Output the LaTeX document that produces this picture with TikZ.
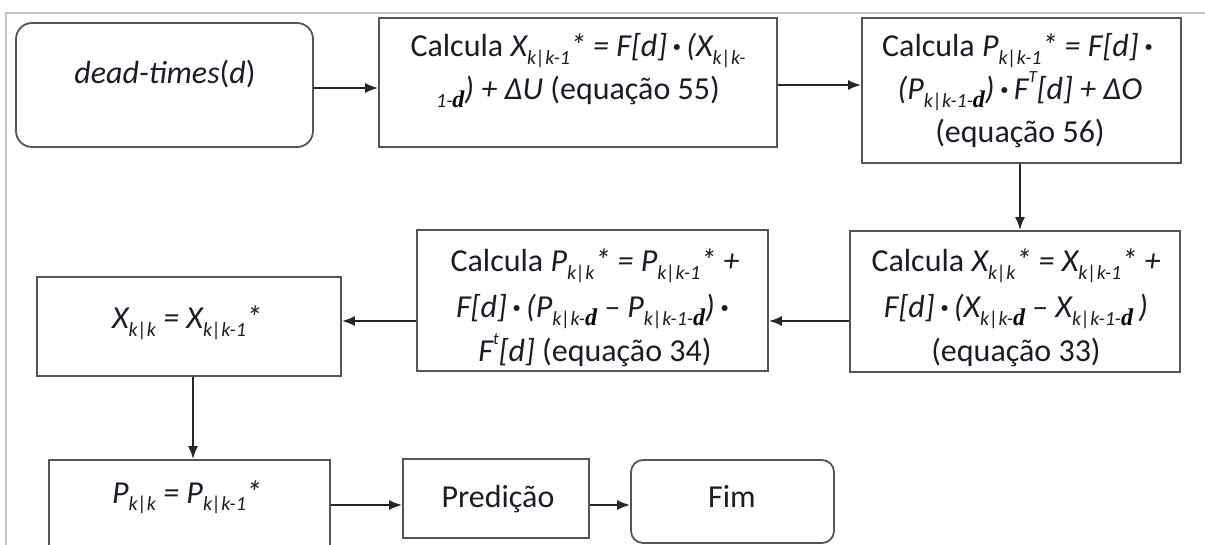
\documentclass[tikz,border=0pt]{standalone}
\usepackage{fontspec}
\setmainfont{Carlito}
\newfontfamily\tms{Liberation Serif}
\usetikzlibrary{arrows.meta,calc}
\definecolor{txt}{RGB}{28,28,40}
\definecolor{bd}{RGB}{85,85,85}
\definecolor{fr}{RGB}{195,195,195}
\newcommand\lo[1]{\raisebox{-0.22em}{\fontsize{20}{20}\selectfont #1}}
\newcommand\hi[1]{\raisebox{0.55em}{\fontsize{17}{17}\selectfont #1}}
\newcommand\bdd{\raisebox{-0.22em}{\fontsize{24}{24}\selectfont\tms\bfseries\itshape\color{black}d}}
\newcommand\dt{\,\textbf{·}\,}
\begin{document}
\begin{tikzpicture}[x=1pt,y=-1pt,
  box/.style={draw=bd,line width=1.8pt,fill=white,inner sep=0},
  rbox/.style={box,rounded corners=#1},
  lbl/.style={anchor=base,inner sep=0,text=txt,font=\fontsize{32}{38}\selectfont},
  arr/.style={draw=black!85,line width=1.9pt,-{Latex[length=13pt,width=10pt]}}]
\useasboundingbox (0,0) rectangle (1205,545);
\clip (0,0) rectangle (1205,545);
\fill[white] (0,0) rectangle (1205,545);
\draw[fr,line width=1.5pt] (6,560) -- (6,13) -- (1210,13);
% boxes
\node[rbox=16pt,minimum width=297pt,minimum height=124pt] (b1) at (164.5,85) {};
\node[box,minimum width=398pt,minimum height=129pt] (b2) at (578,82.5) {};
\node[box,minimum width=319pt,minimum height=145pt] (b3) at (1021.5,90.5) {};
\node[box,minimum width=330pt,minimum height=141pt] (b4) at (1015,301.5) {};
\node[box,minimum width=351pt,minimum height=141pt] (b5) at (592.5,300.5) {};
\node[box,minimum width=304pt,minimum height=99pt] (b6) at (189,326.5) {};
\node[box,minimum width=281pt,minimum height=100pt] (b7) at (189.5,510) {};
\node[box,minimum width=186pt,minimum height=79pt] (b8) at (496,498.5) {};
\node[rbox=12pt,minimum width=203pt,minimum height=83pt] (b9) at (732.5,501.5) {};
% texts
\node[lbl] (t1) at (165,84) {\textit{dead-times}(\textit{d})};
\node[lbl] (t2a) at (578,57) {Calcula \textit{X\lo{k|k-1}* = F[d]\dt(X\lo{k|k-}}};
\node[lbl] (t2b) at (578,100) {\textit{\lo{1-}\bdd) + ΔU} (equação 55)};
\node[lbl] (t3a) at (1020,57) {Calcula \textit{P\lo{k|k-1}* = F[d]\dt}};
\node[lbl] (t3b) at (1020,100) {\textit{(P\lo{k|k-1-}\bdd)\dt F\hi{T}[d] + ΔO}};
\node[lbl] (t3c) at (1020,143) {(equação 56)};
\node[lbl] (t4a) at (1016,272) {Calcula \textit{X\lo{k|k}* = X\lo{k|k-1}* +}};
\node[lbl] (t4b) at (1016,318) {\textit{F[d]\dt(X\lo{k|k-}\bdd\ – X\lo{k|k-1-}\bdd\,)}};
\node[lbl] (t4c) at (1016,362) {(equação 33)};
\node[lbl] (t5a) at (595,272) {Calcula \textit{P\lo{k|k}* = P\lo{k|k-1}* +}};
\node[lbl] (t5b) at (595,318) {\textit{F[d]\dt(P\lo{k|k-}\bdd\ – P\lo{k|k-1-}\bdd)\dt}};
\node[lbl] (t5c) at (595,362) {\textit{F\hi{t}[d]} (equação 34)};
\node[lbl] (t6) at (187,329) {\textit{X\lo{k|k} = X\lo{k|k-1}*}};
\node[lbl] (t7) at (187,503) {\textit{P\lo{k|k} = P\lo{k|k-1}*}};
\node[lbl] (t8) at (498,507) {Predição};
\node[lbl] (t9) at (732,507) {Fim};
% connectors
\coordinate (r1) at (0,88);
\coordinate (r2) at (0,321);
\coordinate (r3) at (0,505);
\draw[arr] (b1.east |- r1) -- (b2.west |- r1);
\draw[arr] (b2.east |- 0,85) -- (b3.west |- 0,85);
\draw[arr] (b3.south -| 1020,0) -- (b4.north -| 1020,0);
\draw[arr] (b4.west |- r2) -- (b5.east |- r2);
\draw[arr] (b5.west |- r2) -- (b6.east |- r2);
\draw[arr] (b6.south -| 193,0) -- (b7.north -| 193,0);
\draw[arr] (b7.east |- r3) -- (b8.west |- r3);
\draw[arr] (b8.east |- r3) -- (b9.west |- r3);
\end{tikzpicture}
\end{document}
